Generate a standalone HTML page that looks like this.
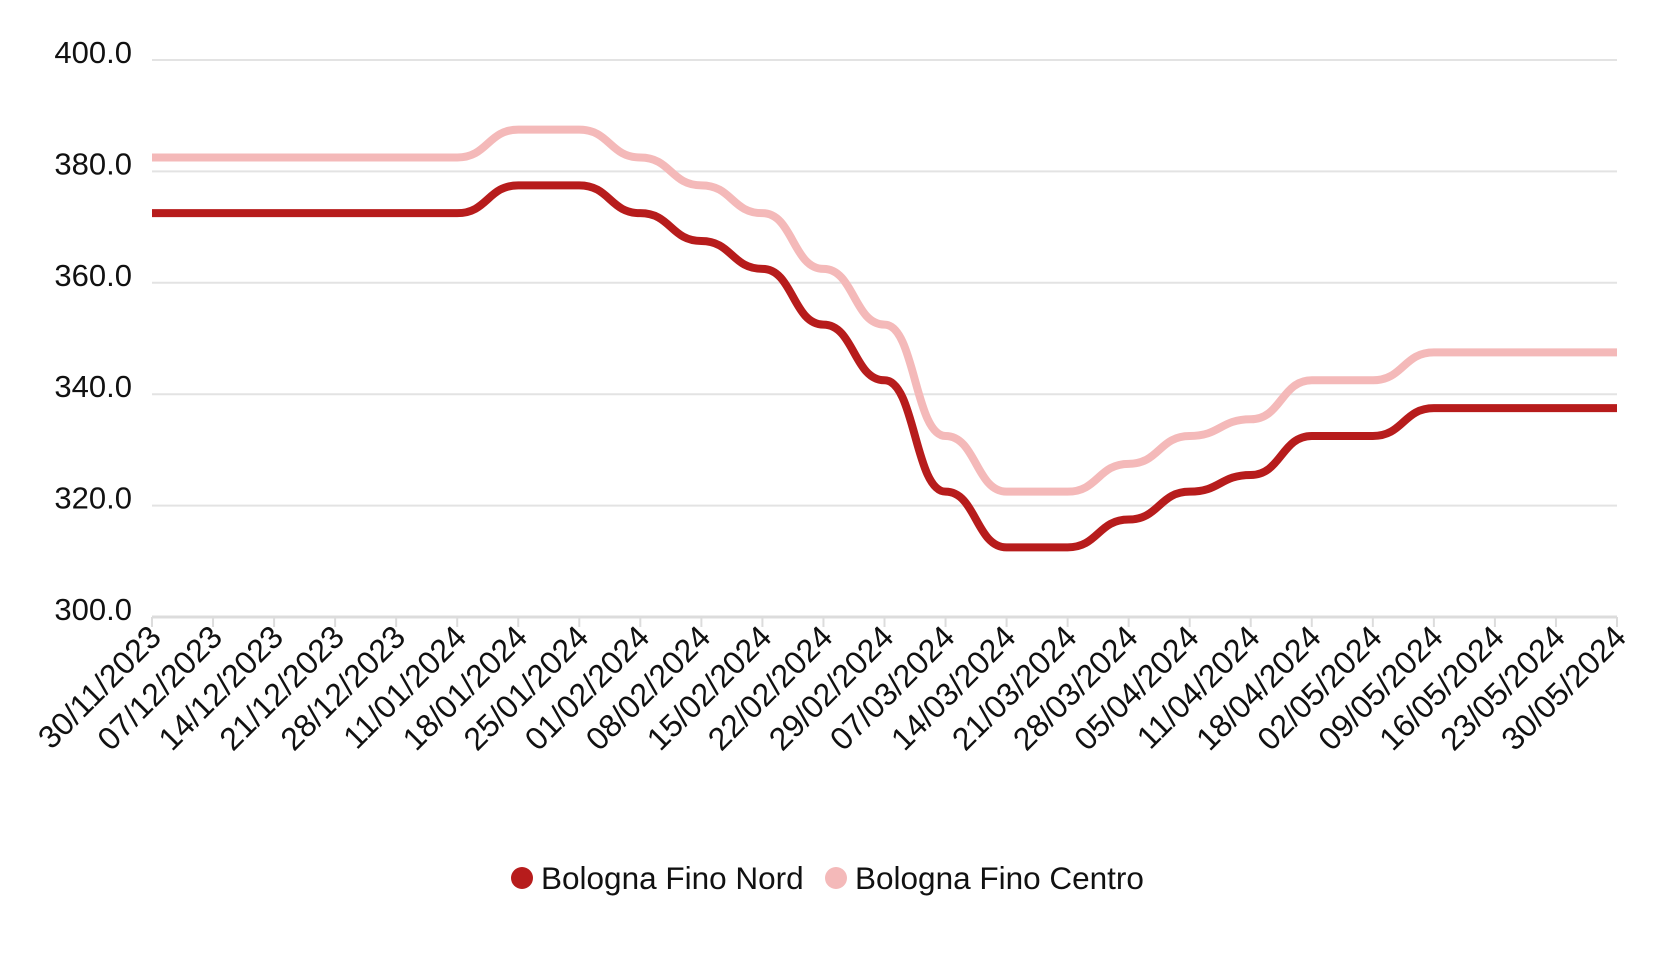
<!DOCTYPE html>
<html><head><meta charset="utf-8"><style>
html,body{margin:0;padding:0;background:#fff;}
svg{display:block;font-family:"Liberation Sans",sans-serif;}
</style></head><body>
<svg id="c" width="1680" height="960" viewBox="0 0 1680 960" xmlns="http://www.w3.org/2000/svg"></svg>
<script>
const svg=document.getElementById('c');
const NS='http://www.w3.org/2000/svg';
function el(t,a,txt){const e=document.createElementNS(NS,t);for(const k in a)e.setAttribute(k,a[k]);if(txt!==undefined)e.textContent=txt;svg.appendChild(e);return e;}
const x0=152,dx=(1617-152)/24,yb=617,ppu=(617-60)/100;
const Y=v=>yb-(v-300)*ppu;
for(let v=300;v<=400;v+=20){
  el('line',{x1:x0,x2:1617,y1:Y(v),y2:Y(v),stroke:v==300?'#dcdcdc':'#e3e3e3','stroke-width':v==300?3:2});
  el('text',{x:132,y:Y(v)+3,'text-anchor':'end','font-size':31,fill:'#111'},v.toFixed(1));
}
const labels=["30/11/2023","07/12/2023","14/12/2023","21/12/2023","28/12/2023","11/01/2024","18/01/2024","25/01/2024","01/02/2024","08/02/2024","15/02/2024","22/02/2024","29/02/2024","07/03/2024","14/03/2024","21/03/2024","28/03/2024","05/04/2024","11/04/2024","18/04/2024","02/05/2024","09/05/2024","16/05/2024","23/05/2024","30/05/2024"];
labels.forEach((l,i)=>{const x=x0+i*dx;
  el('line',{x1:x,x2:x,y1:yb,y2:yb+10,stroke:'#dcdcdc','stroke-width':2});
  el('text',{transform:`translate(${x+11},${yb+22}) rotate(-45)`,'text-anchor':'end','font-size':32,fill:'#111'},l);
});
const nord=[372.5,372.5,372.5,372.5,372.5,372.5,377.5,377.5,372.5,367.5,362.5,352.5,342.5,322.5,312.5,312.5,317.5,322.5,325.5,332.5,332.5,337.5,337.5,337.5,337.5];
const centro=[382.5,382.5,382.5,382.5,382.5,382.5,387.5,387.5,382.5,377.5,372.5,362.5,352.5,332.5,322.5,322.5,327.5,332.5,335.5,342.5,342.5,347.5,347.5,347.5,347.5];
function path(d){let s=`M${x0},${Y(d[0])}`;for(let i=1;i<d.length;i++){const xa=x0+(i-1)*dx,xb=x0+i*dx;const c=dx*0.5;s+=` C${xa+c},${Y(d[i-1])} ${xb-c},${Y(d[i])} ${xb},${Y(d[i])}`;}return s;}
el('path',{d:path(centro),fill:'none',stroke:'#f4b9b9','stroke-width':8,'stroke-linejoin':'round'});
el('path',{d:path(nord),fill:'none',stroke:'#b71c1c','stroke-width':8,'stroke-linejoin':'round'});
el('circle',{cx:522,cy:878,r:11,fill:'#b71c1c'});
el('text',{x:541,y:889,'font-size':31.5,fill:'#111'},'Bologna Fino Nord');
el('circle',{cx:836,cy:878,r:11,fill:'#f4b9b9'});
el('text',{x:855,y:889,'font-size':31.5,fill:'#111'},'Bologna Fino Centro');
</script>
</body></html>
